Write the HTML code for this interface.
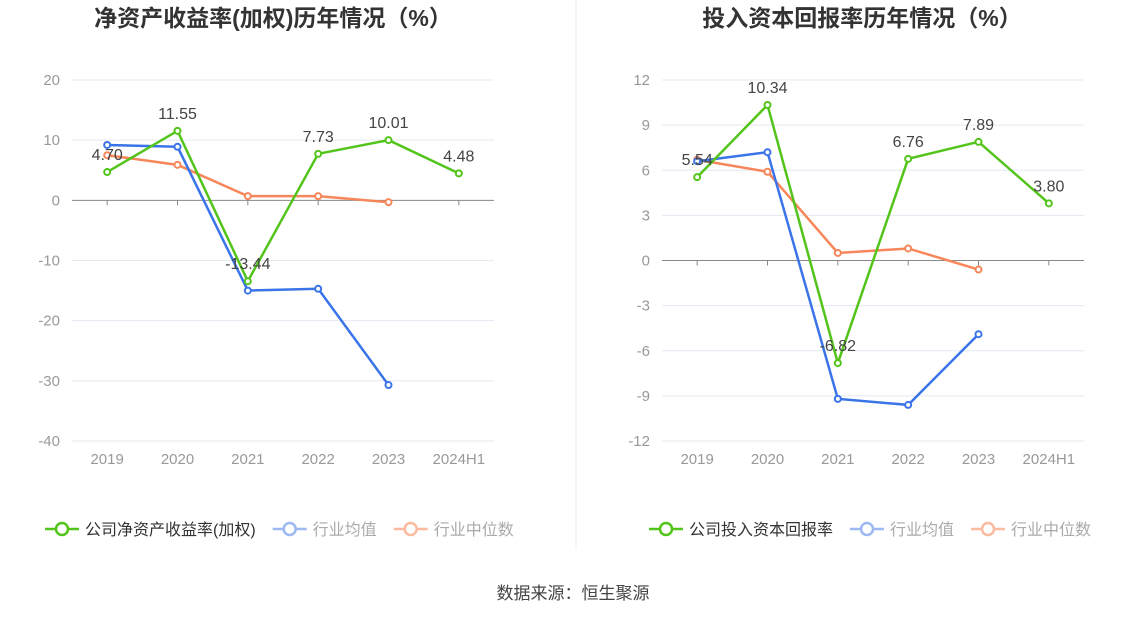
<!DOCTYPE html>
<html><head><meta charset="utf-8"><style>
body{margin:0;background:#fff;width:1147px;height:619px;overflow:hidden;font-family:"Liberation Sans","Noto Sans CJK SC",sans-serif}
</style></head><body>
<svg id="svg" width="1147" height="619" xmlns="http://www.w3.org/2000/svg">
<line x1="576" y1="0" x2="576" y2="550" stroke="#eeeeee"/>
<text x="573" y="599" text-anchor="middle" font-size="17" fill="#444">数据来源：恒生聚源</text>
</svg>
<script>
const categories=["2019","2020","2021","2022","2023","2024H1"];
const roeCompany=[4.70,11.55,-13.44,7.73,10.01,4.48];
const roeAvg=[9.2,8.9,-15.0,-14.7,-30.7,null];
const roeMedian=[7.5,5.9,0.7,0.7,-0.3,null];
const roeTicks=[20,10,0,-10,-20,-30,-40];
const roicCompany=[5.54,10.34,-6.82,6.76,7.89,3.80];
const roicAvg=[6.6,7.2,-9.2,-9.6,-4.9,null];
const roicMedian=[6.7,5.9,0.5,0.8,-0.6,null];
const roicTicks=[12,9,6,3,0,-3,-6,-9,-12];

const NS="http://www.w3.org/2000/svg";
const svg=document.getElementById('svg');
function mk(tag,attrs,parent){const e=document.createElementNS(NS,tag);for(const k in attrs)e.setAttribute(k,attrs[k]);(parent||svg).appendChild(e);return e;}
const GREEN="#52c41a",BLUE="#3a74e8",ORANGE="#f7865a";

function chart(cfg){
  const g=mk('g',{});
  
  
  const x0=cfg.left,x1=cfg.left+422,yTop=80,yBot=441;
  const tmax=cfg.ticks[0],tmin=cfg.ticks[cfg.ticks.length-1];
  const y=v=>yTop+(tmax-v)/(tmax-tmin)*(yBot-yTop);
  const bw=(x1-x0)/categories.length;
  const x=i=>x0+bw*(i+0.5);
  const t=mk('text',{x:cfg.titleX,y:26,'text-anchor':'middle','font-size':23,'font-weight':'bold',fill:'#333'},g);
  t.textContent=cfg.title;
  
  
  cfg.ticks.forEach(v=>{
    const l=mk('line',{x1:x0,x2:x1,y1:y(v),y2:y(v),stroke:v===0?'#888':'#e6e8f2','stroke-width':1},g);
    
    
    const tl=mk('text',{x:x0-12,y:y(v)+5,'text-anchor':'end','font-size':15,fill:'#999'},g);
    tl.textContent=v;
    
    
  });
  categories.forEach((c,i)=>{
    mk('line',{x1:x(i),x2:x(i),y1:y(0),y2:y(0)+5,stroke:'#888'},g);
    const tl=mk('text',{x:x(i),y:464,'text-anchor':'middle','font-size':15,fill:'#999'},g);
    tl.textContent=c;
    
    
  });
  function series(vals,color,name,labels){
    const pts=[];vals.forEach((v,i)=>{if(v!==null)pts.push([x(i),y(v)]);});
    const p=mk('polyline',{points:pts.map(p=>p.join(',')).join(' '),fill:'none',stroke:color,'stroke-width':2.5},g);
    
    
    vals.forEach((v,i)=>{if(v===null)return;
      const c=mk('circle',{cx:x(i),cy:y(v),r:3,fill:'#fff',stroke:color,'stroke-width':2},g);
      
      
      if(labels){const tl=mk('text',{x:x(i),y:y(v)-12,'text-anchor':'middle','font-size':16,fill:'#444'},g);
        tl.textContent=v.toFixed(2);
        
        }
    });
  }
  series(cfg.median,ORANGE,'industry-median',false);
  series(cfg.avg,BLUE,'industry-average',false);
  series(cfg.company,GREEN,'company',true);
  const items=[[cfg.legend,GREEN,1],['行业均值','#9db8f2',0],['行业中位数','#fbbba0',0]];
  let lx=cfg.legendX;
  items.forEach(it=>{
    const lg=mk('g',{},g);
    
    
    mk('line',{x1:lx,x2:lx+34,y1:529,y2:529,stroke:it[1],'stroke-width':2.5},lg);
    mk('circle',{cx:lx+17,cy:529,r:6,fill:'#fff',stroke:it[1],'stroke-width':2.5},lg);
    const tt=mk('text',{x:lx+40,y:535,'font-size':16,fill:it[2]?'#333':'#aaa'},lg);
    tt.textContent=it[0];
    lx+=40+tt.getComputedTextLength()+17;
  });
}
chart({name:'roe-chart',left:72,titleX:273,title:'净资产收益率(加权)历年情况（%）',ticks:roeTicks,company:roeCompany,avg:roeAvg,median:roeMedian,legend:'公司净资产收益率(加权)',legendX:45});
chart({name:'roic-chart',left:662,titleX:862,title:'投入资本回报率历年情况（%）',ticks:roicTicks,company:roicCompany,avg:roicAvg,median:roicMedian,legend:'公司投入资本回报率',legendX:649});
</script>
</body></html>
